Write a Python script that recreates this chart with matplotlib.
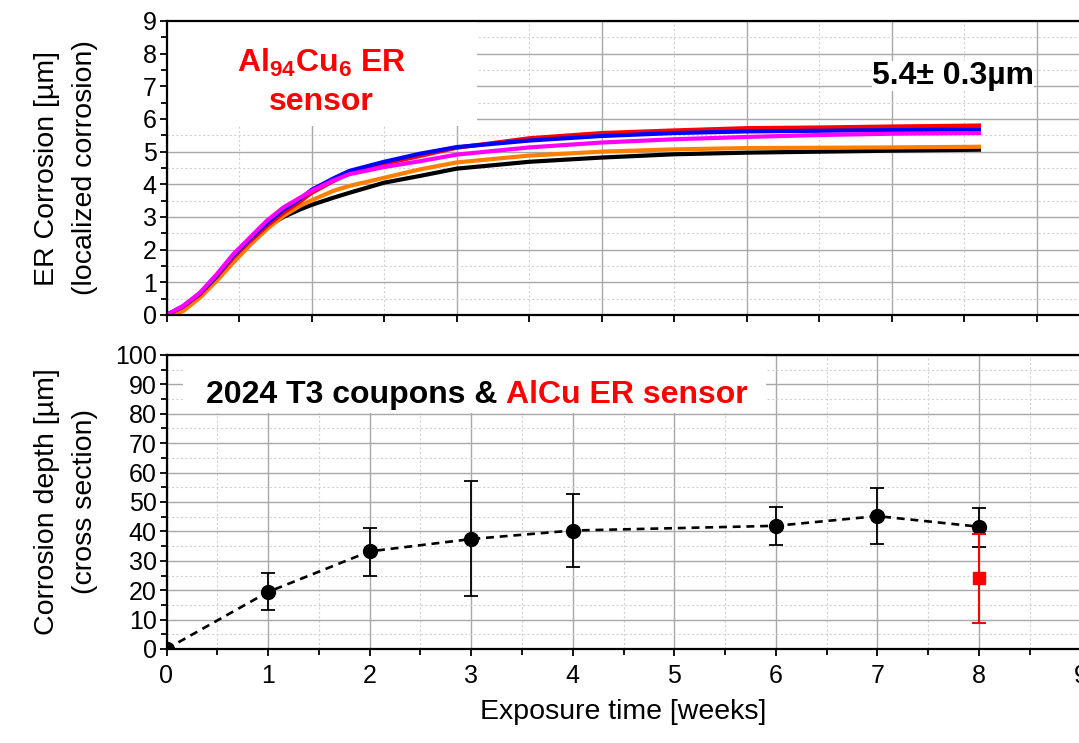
import numpy as np
import matplotlib.pyplot as plt
from matplotlib.patches import Rectangle
from matplotlib.ticker import MultipleLocator

plt.rcParams['font.family'] = ['Liberation Sans', 'DejaVu Sans']
plt.rcParams['mathtext.fontset'] = 'custom'
plt.rcParams['mathtext.rm'] = 'Liberation Sans'
plt.rcParams['mathtext.bf'] = 'Liberation Sans:bold'

# ER sensor curves (time in days)
days = [0, 1.15, 2.3, 3.45, 4.6, 5.75, 6.9, 8.05, 9.2, 10, 11.5, 12.6, 15, 17.5, 20,
        25, 30, 35, 40, 45, 50, 56]
er_black = [0, 0.22, 0.61, 1.12, 1.70, 2.20, 2.69, 3.00, 3.23, 3.37, 3.59, 3.74, 4.05, 4.26, 4.48,
            4.69, 4.82, 4.92, 4.97, 5.00, 5.03, 5.06]
er_red = [0, 0.25, 0.63, 1.16, 1.76, 2.26, 2.72, 3.13, 3.47, 3.74, 4.10, 4.33, 4.63, 4.87, 5.12,
          5.41, 5.57, 5.65, 5.72, 5.74, 5.77, 5.80]
er_blue = [0, 0.27, 0.66, 1.20, 1.82, 2.33, 2.80, 3.22, 3.55, 3.83, 4.18, 4.41, 4.69, 4.94, 5.14,
           5.34, 5.48, 5.57, 5.62, 5.64, 5.66, 5.68]
er_magenta = [0, 0.28, 0.68, 1.24, 1.86, 2.37, 2.88, 3.29, 3.59, 3.80, 4.12, 4.31, 4.53, 4.71, 4.91,
              5.13, 5.28, 5.38, 5.45, 5.51, 5.55, 5.57]
days_orange = [0.45, 1.15, 2.3, 3.45, 4.6, 5.75, 6.9, 8.05, 9.2, 10, 11.5, 12.6, 15, 17.5, 20,
               25, 30, 35, 40, 45, 50, 56]
er_orange = [0, 0.12, 0.53, 1.04, 1.60, 2.14, 2.62, 3.03, 3.34, 3.51, 3.80, 3.95, 4.20, 4.46, 4.67,
             4.88, 5.00, 5.07, 5.11, 5.12, 5.13, 5.15]

# coupon cross sections (time in weeks)
weeks = [0, 1, 2, 3, 4, 6, 7, 8]
depth = [0, 19.4, 33.2, 37.4, 40.3, 41.9, 45.2, 41.6]
depth_lo = [0, 13.2, 24.9, 17.9, 27.9, 35.3, 35.6, 34.8]
depth_hi = [0, 25.7, 41.3, 57.0, 52.8, 48.4, 54.8, 48.0]
sensor_week = [8]
sensor_depth = [24.0]
sensor_lo = [8.8]
sensor_hi = [39.1]

W, H = 1079, 743
fig = plt.figure(figsize=(W / 100, H / 100), dpi=100)
ax1 = fig.add_axes([166.5 / W, 1 - 315 / H, 914 / W, 294 / H])
ax2 = fig.add_axes([166.5 / W, 1 - 649 / H, 914 / W, 294 / H])

for ax in (ax1, ax2):
    ax.set_axisbelow(True)
    ax.grid(which='major', color='#a8a8a8', lw=1.0, ls='-')
    ax.grid(which='minor', color='#d2d2d2', lw=0.8, ls=(0, (2, 2)))
    for s in ('left', 'bottom', 'top'):
        ax.spines[s].set_linewidth(1.6)
    ax.spines['right'].set_visible(False)
    ax.tick_params(which='both', direction='out', width=1.3, labelsize=18)
    ax.tick_params(which='major', length=5)
    ax.tick_params(which='minor', length=4)
    ax.tick_params(axis='y', pad=2)

# top panel
ax1.plot(days, er_black, color='black', lw=3.0)
ax1.plot(days_orange, er_orange, color='#ff7f00', lw=3.0)
ax1.plot(days, er_red, color='red', lw=3.0)
ax1.plot(days, er_blue, color='blue', lw=3.0)
ax1.plot(days, er_magenta, color='magenta', lw=3.0)
ax1.set_xlim(0, 63)
ax1.set_ylim(0, 9)
ax1.xaxis.set_major_locator(MultipleLocator(10))
ax1.xaxis.set_minor_locator(MultipleLocator(5))
ax1.yaxis.set_major_locator(MultipleLocator(1))
ax1.yaxis.set_minor_locator(MultipleLocator(0.5))
ax1.tick_params(axis='x', labelbottom=False)
ax1.tick_params(axis='x', which='minor', length=5)
ax1.set_ylabel('ER Corrosion [µm]\n(localized corrosion)', fontsize=20.5, linespacing=1.6)
ax1.yaxis.set_label_coords(-0.075, 0.5)
ax1.add_patch(Rectangle((0, 0.643), 0.34, 0.357, transform=ax1.transAxes,
                        facecolor='white', edgecolor='none', zorder=1))
ax1.text(10.7, 7.44, r'Al$_{\mathbf{94}}$Cu$_{\mathbf{6}}$ ER', color='red', fontsize=23,
         fontweight='bold', ha='center', va='baseline', zorder=4)
ax1.text(10.7, 6.27, 'sensor', color='red', fontsize=23, fontweight='bold',
         ha='center', va='baseline', zorder=4)
ax1.text(48.6, 7.07, '5.4± 0.3µm', color='black', fontsize=23, fontweight='bold',
         ha='left', va='baseline', zorder=4,
         bbox=dict(facecolor='white', edgecolor='none', pad=0))

# bottom panel
ax2.plot(weeks, depth, color='black', lw=1.9, ls=(0, (3, 2.2)), zorder=2)
ax2.errorbar(weeks, depth,
             yerr=[np.array(depth) - np.array(depth_lo), np.array(depth_hi) - np.array(depth)],
             fmt='o', color='black', ms=10, capsize=5, elinewidth=1.3, capthick=1.3, zorder=3)
ax2.errorbar(sensor_week, sensor_depth,
             yerr=[np.array(sensor_depth) - np.array(sensor_lo), np.array(sensor_hi) - np.array(sensor_depth)],
             fmt='s', color='red', ms=9, capsize=5, elinewidth=1.5, capthick=1.5, zorder=4)
ax2.set_xlim(0, 9)
ax2.set_ylim(0, 100)
ax2.xaxis.set_major_locator(MultipleLocator(1))
ax2.xaxis.set_minor_locator(MultipleLocator(0.5))
ax2.yaxis.set_major_locator(MultipleLocator(10))
ax2.yaxis.set_minor_locator(MultipleLocator(5))
ax2.tick_params(axis='x', pad=6)
ax2.set_xlabel('Exposure time [weeks]', fontsize=20.5, labelpad=8)
ax2.set_ylabel('Corrosion depth [µm]\n(cross section)', fontsize=20.5, linespacing=1.6)
ax2.yaxis.set_label_coords(-0.075, 0.5)
ax2.add_patch(Rectangle((0.018, 0.803), 0.638, 0.197, transform=ax2.transAxes,
                        facecolor='white', edgecolor='none', zorder=1))
t1 = ax2.text(0.043, 0.836, '2024 T3 coupons & ', color='black', fontsize=23, fontweight='bold',
              transform=ax2.transAxes, ha='left', va='baseline', zorder=5)
ax2.annotate('AlCu ER sensor', xy=(1, 0), xycoords=t1, color='red', fontsize=23,
             fontweight='bold', ha='left', va='bottom', zorder=5)

fig.savefig('out.png', dpi=100)
